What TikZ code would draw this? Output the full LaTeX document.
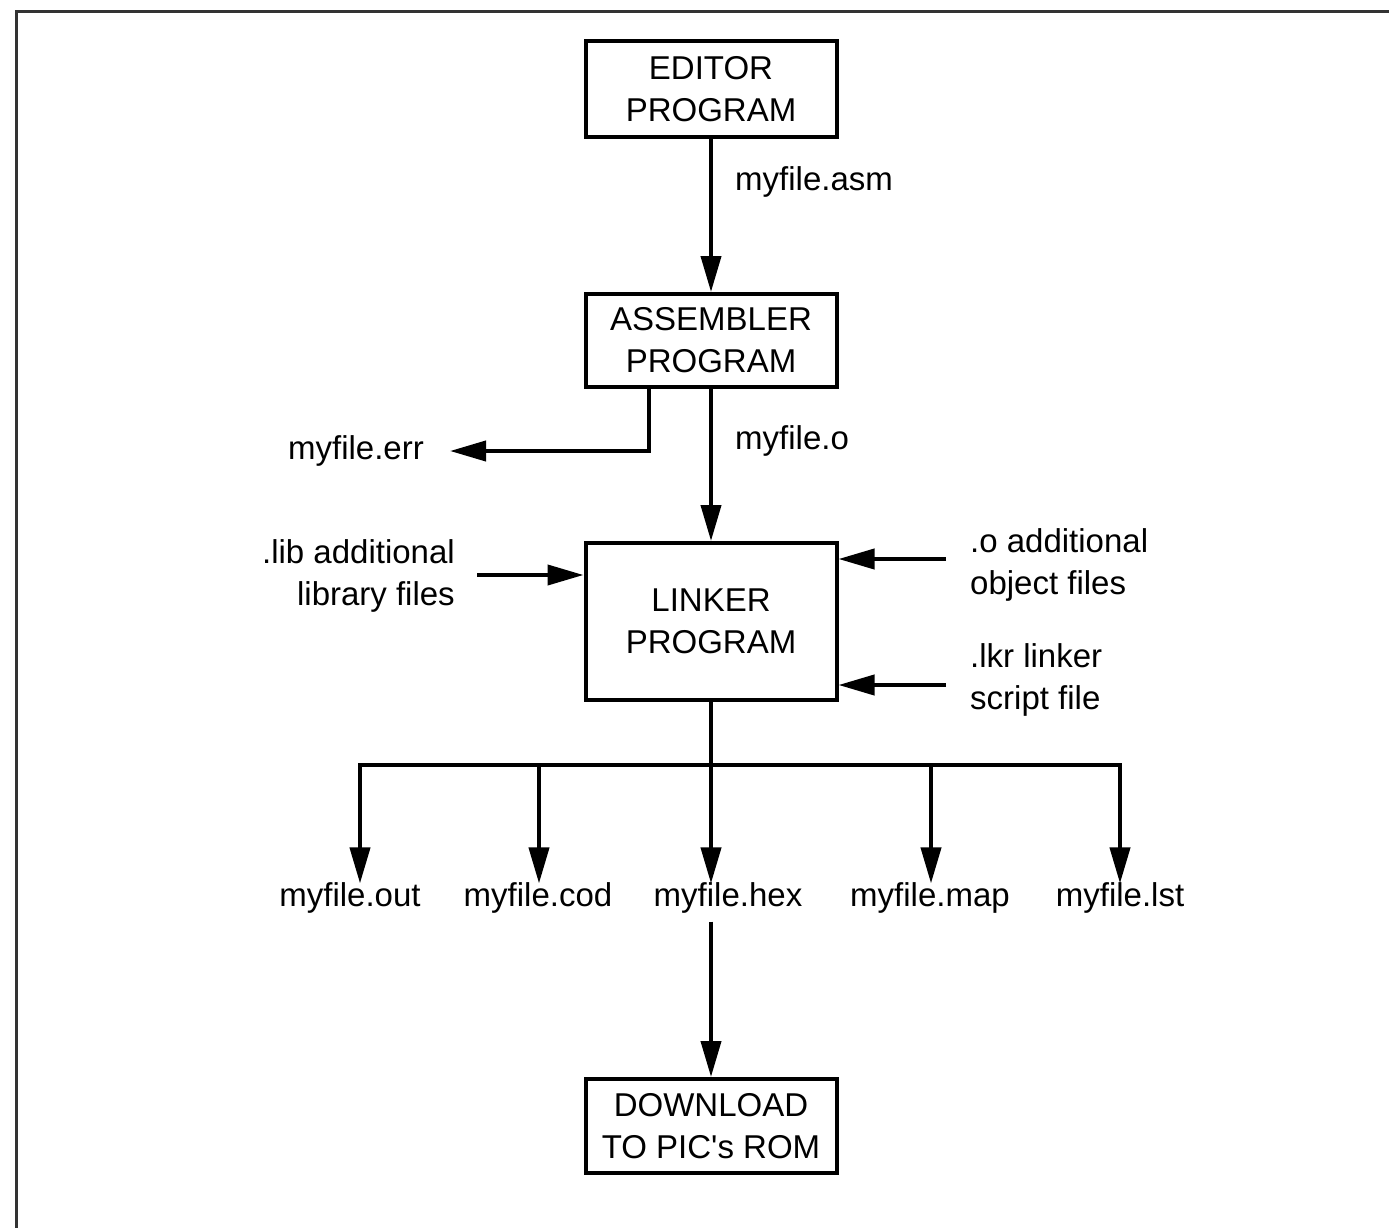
\documentclass[tikz,border=0pt]{standalone}
\usepackage{fontspec}
\setmainfont{Liberation Sans}
\usetikzlibrary{arrows.meta}
\begin{document}
\begin{tikzpicture}[x=1pt,y=-1pt,
  box/.style={draw, line width=4pt, minimum width=251pt, inner sep=0pt, align=center,
    font=\fontsize{33}{42}\selectfont},
  lbl/.style={inner sep=0pt, font=\fontsize{33}{42}\selectfont},
  wire/.style={line width=4pt},
  arr/.style={line width=4pt, -{Triangle[length=36pt,width=20pt]}},
  frame/.style={line width=3pt, black!80}]
\useasboundingbox (0,0) rectangle (1389,1228);
\draw[frame] (16,1228) -- (16,12) -- (1389,12);

% boxes
\node[box, minimum height=96pt] (editor) at (711,89) {EDITOR\\PROGRAM};
\node[box, minimum height=93pt] (asm) at (711,340.5) {ASSEMBLER\\PROGRAM};
\node[box, minimum height=157pt] (link) at (711,621.5) {LINKER\\PROGRAM};
\node[box, minimum height=94pt] (dl) at (711,1126) {DOWNLOAD\\TO PIC\textquotesingle s ROM};

% labels
\node[lbl, anchor=west] (asmlbl) at (735,182) {myfile.asm};
\node[lbl, anchor=west] (olbl) at (735,441) {myfile.o};
\node[lbl, anchor=east] (errlbl) at (424,451) {myfile.err};
\node[lbl, anchor=east, align=right] (liblbl) at (455,576) {.lib additional\\library files};
\node[lbl, anchor=west, align=left] (objlbl) at (970,565) {.o additional\\object files};
\node[lbl, anchor=west, align=left] (lkrlbl) at (970,680) {.lkr linker\\script file};

\node[lbl] (out) at (350,898) {myfile.out};
\node[lbl] (cod) at (538,898) {myfile.cod};
\node[lbl] (hex) at (728,898) {myfile.hex};
\node[lbl] (map) at (930,898) {myfile.map};
\node[lbl] (lst) at (1120,898) {myfile.lst};

% coordinates
\coordinate (errtip) at (450,451);
\coordinate (errsrc) at (649,387);
\coordinate (libsrc) at (477,575);
\coordinate (objsrc) at (946,559);
\coordinate (lkrsrc) at (946,685);
\coordinate (b1) at (360,765);
\coordinate (b2) at (539,765);
\coordinate (b3) at (711,765);
\coordinate (b4) at (931,765);
\coordinate (b5) at (1120,765);

% connectors
\draw[arr] (editor.south) -- (asm.north);
\draw[arr] (asm.south) -- (link.north);
\draw[arr] (errsrc) |- (errtip);
\draw[arr] (libsrc) -- (libsrc -| link.west);
\draw[arr] (objsrc) -- (objsrc -| link.east);
\draw[arr] (lkrsrc) -- (lkrsrc -| link.east);
\draw[wire] (link.south) -- (b3);
\draw[wire, line cap=rect] (b1) -- (b5);
\draw[arr] (b1) -- ([yshift=-1pt]b1 |- out.north);
\draw[arr] (b2) -- ([yshift=-1pt]b2 |- cod.north);
\draw[arr] (b3) -- ([yshift=-1pt]b3 |- hex.north);
\draw[arr] (b4) -- ([yshift=-1pt]b4 |- map.north);
\draw[arr] (b5) -- ([yshift=-1pt]b5 |- lst.north);
\draw[arr] ([yshift=-8pt]hex.south -| dl.north) -- (dl.north);
\end{tikzpicture}
\end{document}
